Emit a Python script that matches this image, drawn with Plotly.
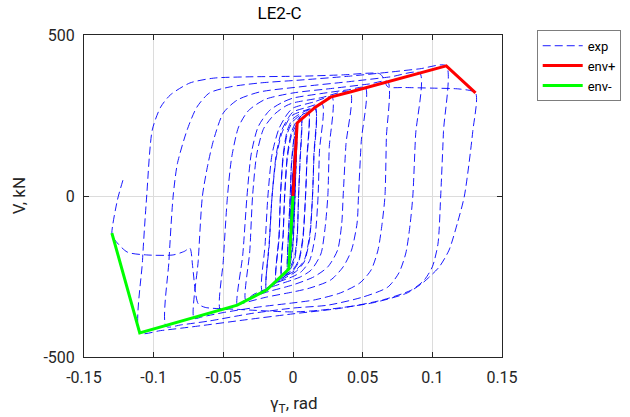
import plotly.graph_objects as go

# ---- envelope data ----
env_pos_x = [0.0, 0.003, 0.016, 0.027, 0.041, 0.091, 0.110, 0.131]
env_pos_v = [0, 227, 276, 307, 323, 382, 404, 320]
env_neg_x = [0.0, -0.003, -0.019, -0.040, -0.110, -0.130]
env_neg_v = [0, -227, -292, -339, -425, -115]

# ---- experimental hysteresis, as read vertices of each half-cycle (x rad, V kN) ----
core_cycles = [(0, 0), (0.0005, 45), (0.0002, 0), (-0.0005, -45), (-0.0002, 0),
               (0.001, 95), (0.0005, 0), (-0.001, -95), (-0.0004, 0),
               (0.0015, 140), (0.0008, 0), (-0.0015, -140), (-0.0007, 0),
               (0.0015, 135), (0.0007, 0), (-0.0015, -138), (-0.0007, 0),
               (0.002, 180), (0.001, 0), (-0.002, -185), (-0.001, 0),
               (0.002, 175), (0.0009, 0), (-0.002, -180), (-0.0009, 0),
               (0.0025, 205), (0.0012, 0), (-0.0025, -210), (-0.0013, 0),
               (0.003, 227)]
down_003 = [(0.003, 227), (0.002, 80), (0.001, -60), (0.0, -150), (-0.002, -210), (-0.004, -235)]
up_004r = [(-0.003, -90), (-0.002, 0), (-0.001, 100), (0.001, 180), (0.003, 220)]
down_003r = [(0.002, 75), (0.001, -55), (0.0, -140), (-0.002, -205), (-0.004, -230)]
up_004 = [(-0.003, -100), (-0.002, 0), (-0.001, 110), (0.001, 190), (0.003, 225), (0.006, 250)]
down_006 = [(0.005, 110), (0.004, 0), (0.003, -130), (0.001, -200), (-0.003, -235), (-0.008, -255)]
up_008r = [(-0.007, -110), (-0.006, 0), (-0.004, 120), (-0.001, 190), (0.003, 225), (0.006, 240)]
down_006r = [(0.005, 100), (0.004, 0), (0.003, -120), (0.001, -190), (-0.003, -228), (-0.008, -248)]
up_008 = [(-0.007, -120), (-0.006, 0), (-0.004, 130), (-0.001, 200), (0.003, 235), (0.011, 265)]
down_011 = [(0.010, 120), (0.009, 0), (0.007, -140), (0.004, -205), (0.0, -232), (-0.006, -250), (-0.012, -268)]
up_012r = [(-0.010, -120), (-0.009, 0), (-0.007, 120), (-0.004, 195), (0.0, 232), (0.006, 252), (0.011, 258)]
down_011r = [(0.010, 110), (0.009, 0), (0.007, -130), (0.004, -200), (0.0, -228), (-0.006, -245), (-0.012, -262)]
up_012 = [(-0.010, -130), (-0.009, 0), (-0.007, 130), (-0.004, 205), (0.0, 240), (0.008, 262), (0.016, 276)]
down_016 = [(0.015, 130), (0.014, 0), (0.012, -130), (0.008, -205), (0.002, -235), (-0.006, -255), (-0.014, -275), (-0.019, -292)]
up_019r = [(-0.017, -140), (-0.015, 0), (-0.012, 120), (-0.008, 195), (-0.003, 238), (0.0, 252), (0.008, 265), (0.016, 270)]
down_016r = [(0.015, 120), (0.014, 0), (0.012, -120), (0.008, -200), (0.002, -230), (-0.006, -250), (-0.014, -270), (-0.019, -285)]
up_019 = [(-0.017, -150), (-0.015, 0), (-0.012, 130), (-0.008, 205), (-0.003, 245), (0.0, 261), (0.010, 275), (0.021, 285)]
down_021 = [(0.019, 140), (0.018, 0), (0.016, -120), (0.012, -200), (0.006, -235), (0.0, -250), (-0.012, -270), (-0.022, -295)]
up_022 = [(-0.020, -150), (-0.018, 0), (-0.015, 130), (-0.010, 210), (-0.004, 255), (0.0, 273), (0.015, 292), (0.028, 307)]
down_028 = [(0.026, 150), (0.025, 0), (0.023, -100), (0.020, -180), (0.013, -230), (0.005, -252), (0.0, -260),
            (-0.015, -282), (-0.028, -305), (-0.034, -322)]
up_034 = [(-0.031, -170), (-0.029, 0), (-0.026, 130), (-0.021, 210), (-0.013, 255), (-0.005, 280), (0.0, 289),
          (0.020, 305), (0.041, 323)]
down_041 = [(0.038, 160), (0.036, 0), (0.035, -84), (0.032, -168), (0.025, -220), (0.015, -251), (0.0, -276),
            (-0.020, -300), (-0.035, -325), (-0.040, -339)]
up_040 = [(-0.036, -180), (-0.033, 0), (-0.030, 130), (-0.025, 215), (-0.017, 265), (-0.008, 290), (0.0, 304),
          (0.020, 318), (0.040, 330), (0.052, 336)]
down_052 = [(0.049, 170), (0.047, 0), (0.046, -84), (0.042, -168), (0.036, -220), (0.027, -261), (0.012, -286),
            (0.0, -298), (-0.020, -315), (-0.040, -338), (-0.052, -355)]
up_052 = [(-0.050, -200), (-0.047, 0), (-0.044, 120), (-0.039, 215), (-0.032, 265), (-0.020, 300), (0.0, 320),
          (0.030, 335), (0.055, 348), (0.068, 355)]
down_068 = [(0.067, 180), (0.066, 0), (0.064, -84), (0.061, -168), (0.056, -230), (0.048, -270), (0.034, -301),
            (0.015, -323), (0.0, -332), (-0.025, -345), (-0.050, -362), (-0.065, -375), (-0.071, -380)]
up_071 = [(-0.068, -200), (-0.065, 0), (-0.061, 100), (-0.057, 174), (-0.050, 258), (-0.040, 298), (-0.024, 323),
          (0.005, 339), (0.040, 355), (0.070, 370), (0.091, 382)]
down_091 = [(0.088, 190), (0.086, 0), (0.084, -90), (0.081, -177), (0.076, -239), (0.068, -283), (0.050, -314),
            (0.025, -339), (0.0, -348), (-0.030, -365), (-0.060, -388), (-0.080, -400), (-0.091, -405)]
up_091 = [(-0.089, -200), (-0.086, 0), (-0.083, 100), (-0.076, 205), (-0.069, 276), (-0.060, 320), (-0.045, 339),
          (-0.024, 351), (0.005, 360), (0.040, 372), (0.070, 385), (0.091, 395), (0.110, 404)]
down_110 = [(0.108, 200), (0.106, 0), (0.104, -150), (0.100, -220), (0.094, -262), (0.085, -292), (0.065, -322),
            (0.035, -348), (0.0, -366), (-0.035, -385), (-0.070, -405), (-0.095, -418), (-0.110, -425)]
up_110 = [(-0.108, -200), (-0.105, 0), (-0.101, 205), (-0.095, 276), (-0.088, 314), (-0.074, 351), (-0.057, 366),
          (-0.033, 370), (0.005, 372), (0.035, 376), (0.062, 380), (0.065, 366), (0.068, 339), (0.080, 337),
          (0.100, 335), (0.120, 332), (0.131, 320)]
down_131 = [(0.129, 200), (0.123, 0), (0.118, -84), (0.112, -168), (0.105, -220), (0.098, -251), (0.093, -270),
            (0.082, -301), (0.057, -332), (0.021, -354), (0.0, -360), (-0.040, -352), (-0.063, -346),
            (-0.068, -335), (-0.070, -300), (-0.072, -220), (-0.074, -162), (-0.078, -172), (-0.086, -183),
            (-0.105, -183), (-0.119, -174), (-0.129, -130), (-0.130, -115)]
final_up = [(-0.126, -12), (-0.122, 50)]

branches = [core_cycles, down_003, up_004r, down_003r, up_004, down_006, up_008r, down_006r, up_008,
            down_011, up_012r, down_011r, up_012, down_016, up_019r, down_016r, up_019,
            down_021, up_022, down_028, up_034, down_041, up_040, down_052, up_052, down_068, up_071,
            down_091, up_091, down_110, up_110, down_131, final_up]

exp_x, exp_v = [], []
for br in branches:
    for px, pv in br:
        exp_x.append(px)
        exp_v.append(pv)

x_ticks = [-0.15, -0.1, -0.05, 0, 0.05, 0.1, 0.15]
x_tick_text = ["-0.15", "-0.1", "-0.05", "0", "0.05", "0.1", "0.15"]
y_ticks = [-500, 0, 500]
y_tick_text = ["-500", "0", "500"]

FONT = "Roboto, Liberation Sans, Arial, sans-serif"

fig = go.Figure()
fig.add_trace(go.Scatter(x=exp_x, y=exp_v, mode="lines", name="exp",
                         line=dict(color="#0000FF", width=0.9, dash="8px,4px", shape="spline", smoothing=0.7)))
fig.add_trace(go.Scatter(x=env_pos_x, y=env_pos_v, mode="lines", name="env+",
                         line=dict(color="#FF0000", width=3)))
fig.add_trace(go.Scatter(x=env_neg_x, y=env_neg_v, mode="lines", name="env-",
                         line=dict(color="#00FF00", width=3)))

axis_common = dict(showline=True, linecolor="#262626", linewidth=1, mirror="ticks",
                   ticks="inside", ticklen=5, tickcolor="#262626",
                   showgrid=True, gridcolor="#dcdcdc", gridwidth=1, zeroline=False,
                   tickfont=dict(family=FONT, size=16, color="#262626"))

fig.update_layout(
    width=630, height=417,
    margin=dict(l=84, r=128, t=35, b=60, autoexpand=False),
    paper_bgcolor="white", plot_bgcolor="white",
    title=dict(text="LE2-C", x=0.468, xref="paper", y=1 - 13 / 417, yref="container",
               xanchor="center", yanchor="middle", font=dict(family=FONT, size=17, color="black")),
    xaxis=dict(range=[-0.15, 0.15], tickvals=x_ticks, ticktext=x_tick_text, ticklabelstandoff=6, **axis_common),
    yaxis=dict(range=[-500, 500], tickvals=y_ticks, ticktext=y_tick_text, ticklabelstandoff=5, **axis_common),
    showlegend=True,
    legend=dict(x=1.084, y=1.015, xanchor="left", yanchor="top", bgcolor="white",
                bordercolor="#262626", borderwidth=0.6, font=dict(family=FONT, size=13, color="black"),
                tracegroupgap=0, itemwidth=40),
    annotations=[
        dict(text="V, kN", x=-0.155, y=0.5, xref="paper", yref="paper", showarrow=False, textangle=-90,
             xanchor="center", yanchor="middle", font=dict(family=FONT, size=17, color="#262626")),
        dict(text="γ<sub>T</sub>, rad", x=0.5, y=-0.148, xref="paper", yref="paper", showarrow=False,
             xanchor="center", yanchor="middle", font=dict(family=FONT, size=17, color="#262626")),
    ],
)

fig.write_html("out.html")
